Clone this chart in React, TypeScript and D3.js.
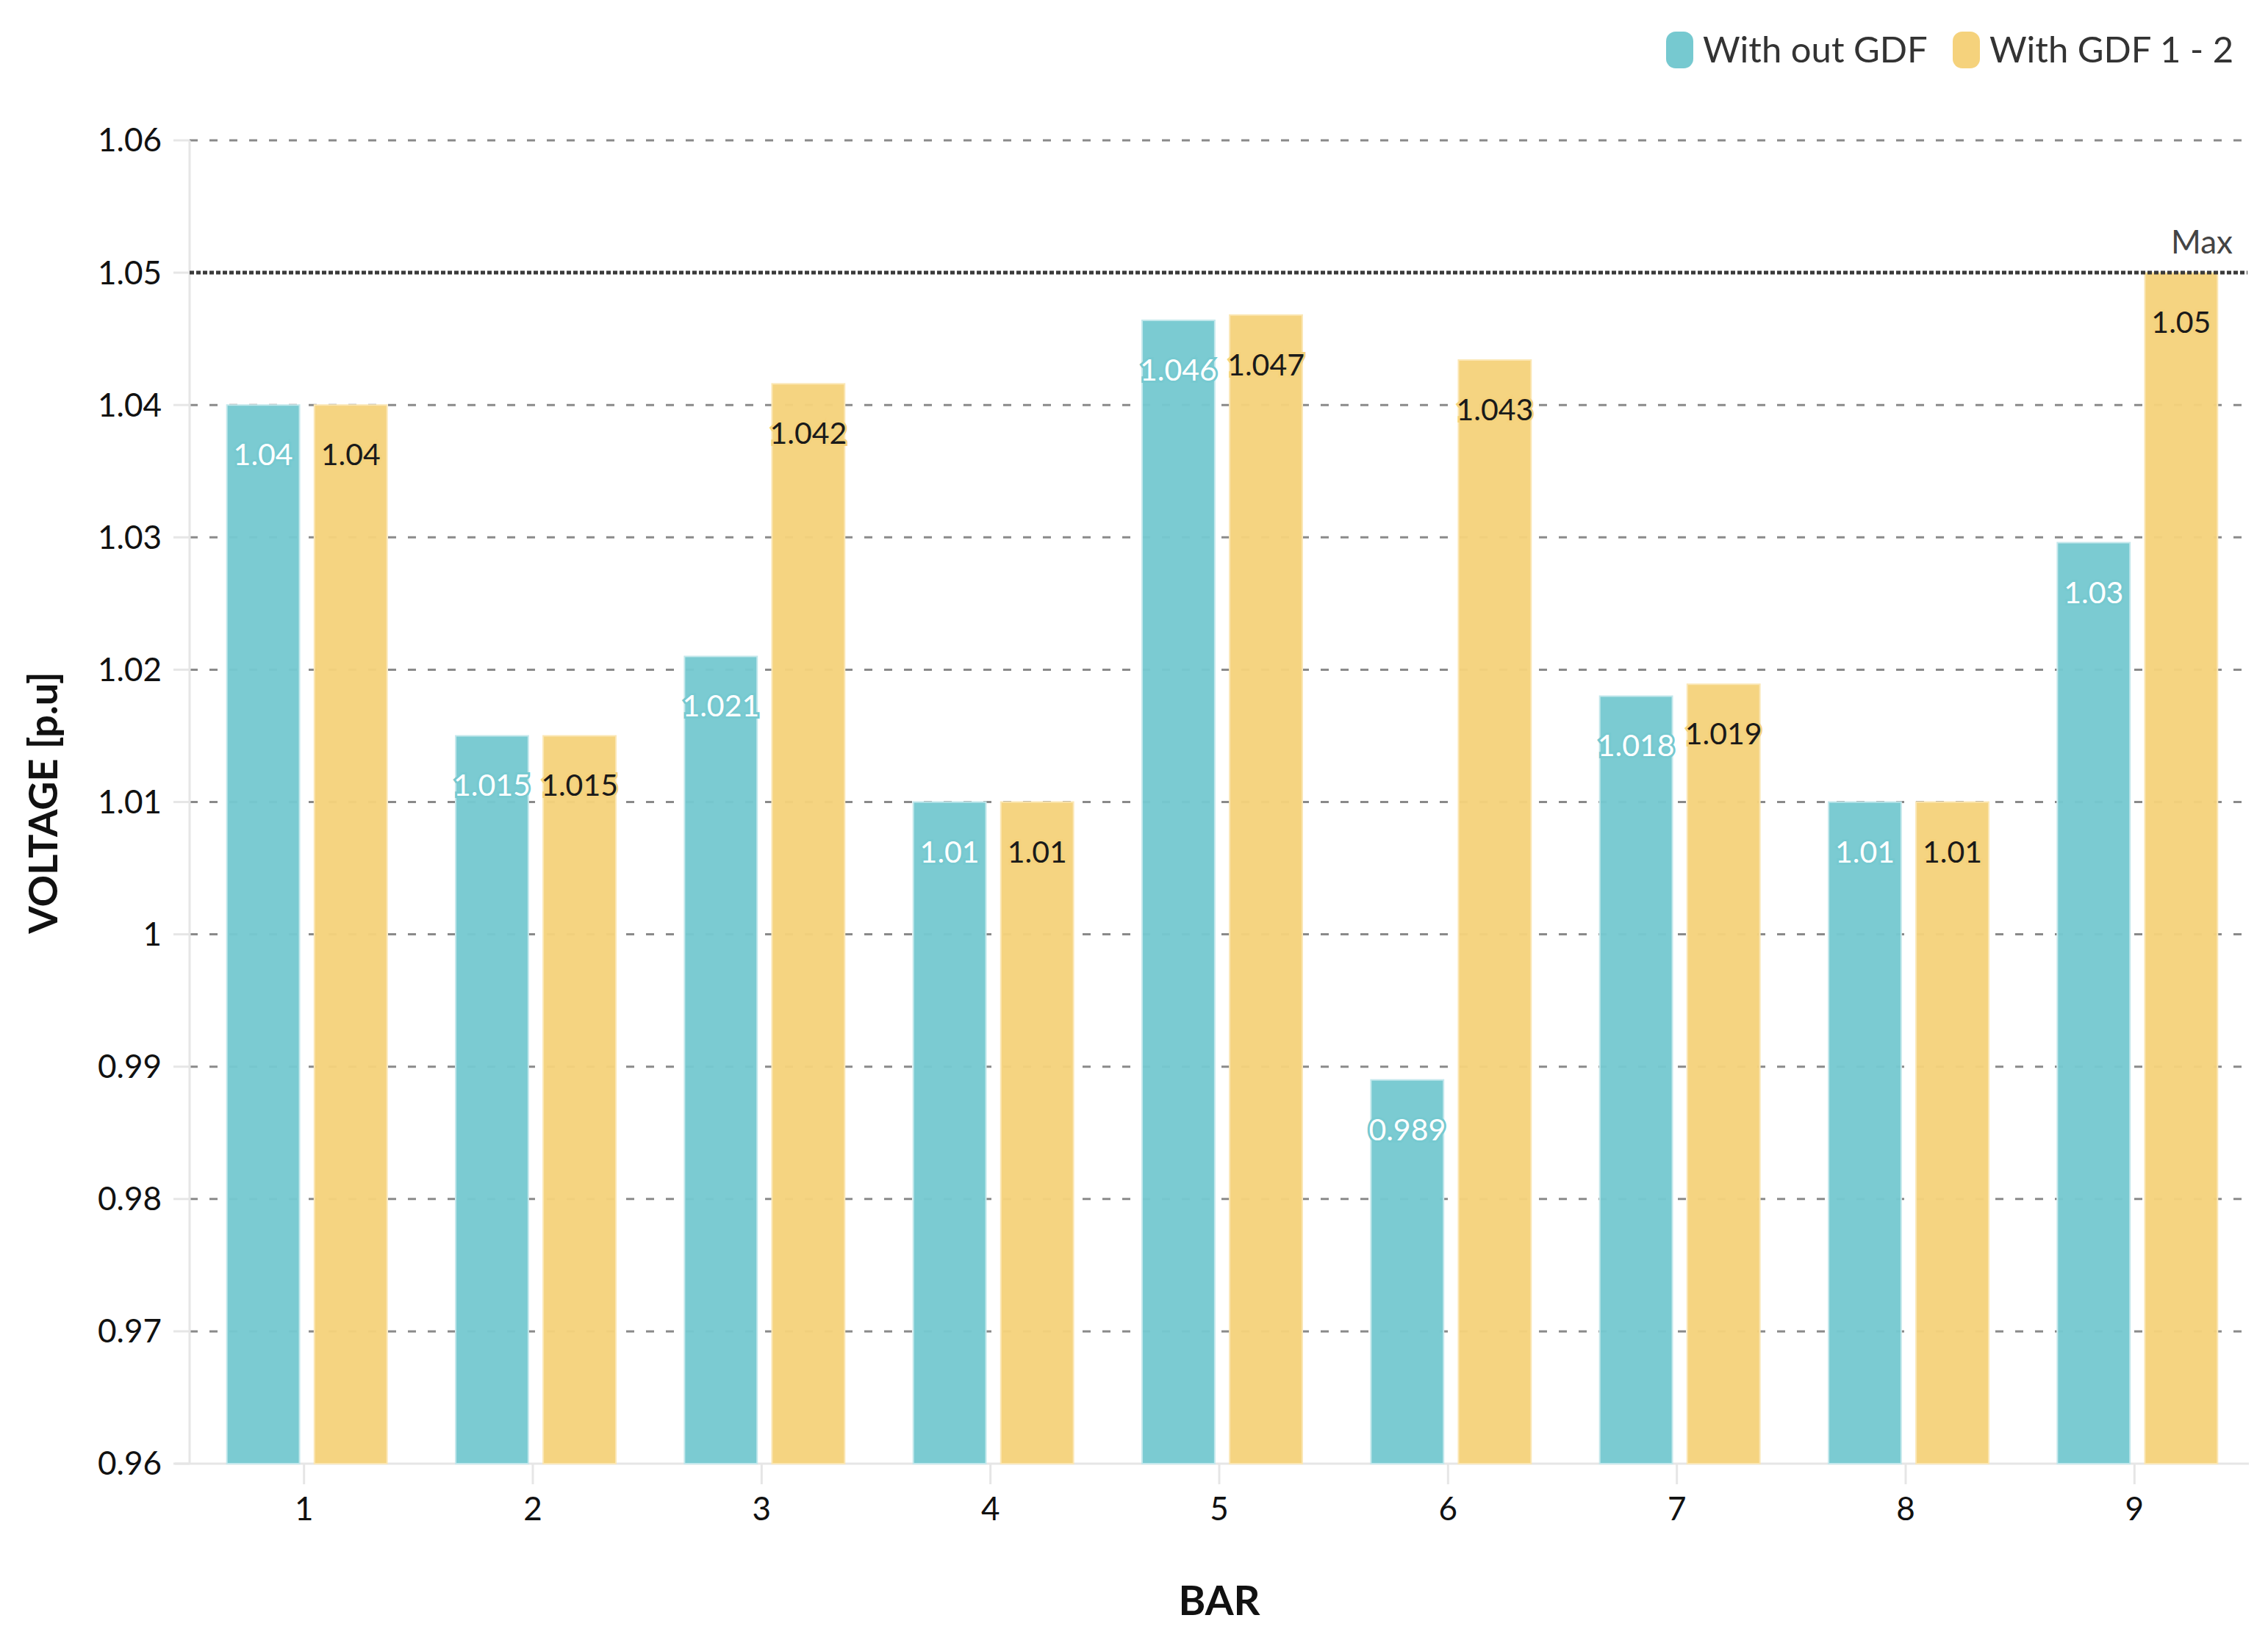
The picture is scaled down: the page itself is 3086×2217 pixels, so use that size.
import { useEffect, useRef } from 'react';
import * as d3 from 'd3';

const BARS = ['1', '2', '3', '4', '5', '6', '7', '8', '9'];
const WITHOUT_GDF = [1.04, 1.015, 1.021, 1.01, 1.0464, 0.989, 1.018, 1.01, 1.0296];
const WITH_GDF = [1.04, 1.015, 1.0416, 1.01, 1.0468, 1.0434, 1.0189, 1.01, 1.05];
const SERIES_NAMES = ['With out GDF', 'With GDF 1 - 2'];
const Y_TICKS = [0.96, 0.97, 0.98, 0.99, 1, 1.01, 1.02, 1.03, 1.04, 1.05, 1.06];
const MAX_LIMIT = 1.05;

const COLORS = ['#76c9d0', '#f5d27c'];
const EDGES = ['#c4e8ec', '#fbe7b5'];
const LABEL_FILL = ['#ffffff', '#1a1a1a'];

const W = 3086;
const H = 2217;
const FONT = 'Lato, "Noto Sans", sans-serif';

export default function App() {
  const ref = useRef<SVGSVGElement>(null);

  useEffect(() => {
    document.body.style.margin = '0';
    if (!ref.current) return;
    const svg = d3.select(ref.current);
    svg.selectAll('*').remove();

    const margin = { top: 191, right: 26, bottom: 225, left: 258 };
    const x0 = margin.left;
    const x1 = W - margin.right;
    const yTop = margin.top;
    const yBot = H - margin.bottom;

    const x = d3.scaleBand<string>().domain(BARS).range([x0, x1]).paddingInner(0).paddingOuter(0);
    const groupW = x.bandwidth() * 0.7;
    const xs = d3.scaleBand<number>().domain([0, 1]).range([0, groupW]).paddingInner(0.17);
    const y = d3.scaleLinear().domain([0.96, 1.06]).range([yBot, yTop]);

    const rows = BARS.map((b, i) => ({ bar: b, values: [WITHOUT_GDF[i], WITH_GDF[i]] }));

    svg.append('rect').attr('width', W).attr('height', H).attr('fill', '#ffffff');

    // gridlines
    svg.append('g')
      .selectAll('line')
      .data(Y_TICKS.filter(t => t !== 0.96 && t !== MAX_LIMIT))
      .join('line')
      .attr('x1', x0)
      .attr('x2', x1)
      .attr('y1', d => y(d))
      .attr('y2', d => y(d))
      .attr('stroke', '#8a8a8a')
      .attr('stroke-width', 3)
      .attr('stroke-dasharray', '11 16');

    // axis lines + ticks
    svg.append('line')
      .attr('x1', x0).attr('x2', x0).attr('y1', yTop).attr('y2', yBot)
      .attr('stroke', '#e6e6e6').attr('stroke-width', 3);
    svg.append('line')
      .attr('x1', x0 - 20).attr('x2', x1).attr('y1', yBot).attr('y2', yBot)
      .attr('stroke', '#e6e6e6').attr('stroke-width', 3);

    svg.append('g')
      .selectAll('line')
      .data(Y_TICKS)
      .join('line')
      .attr('x1', x0 - 22).attr('x2', x0)
      .attr('y1', d => y(d)).attr('y2', d => y(d))
      .attr('stroke', '#e6e6e6').attr('stroke-width', 3);

    svg.append('g')
      .selectAll('line')
      .data(BARS)
      .join('line')
      .attr('x1', d => x(d)! + x.bandwidth() / 2)
      .attr('x2', d => x(d)! + x.bandwidth() / 2)
      .attr('y1', yBot).attr('y2', yBot + 28)
      .attr('stroke', '#e6e6e6').attr('stroke-width', 3);

    // tick labels
    const fmtTick = d3.format('.2~f');
    svg.append('g')
      .selectAll('text')
      .data(Y_TICKS)
      .join('text')
      .attr('x', x0 - 38)
      .attr('y', d => y(d))
      .attr('dy', '0.35em')
      .attr('text-anchor', 'end')
      .attr('font-family', FONT)
      .attr('font-size', 44)
      .attr('fill', '#111')
      .text(d => fmtTick(d));

    svg.append('g')
      .selectAll('text')
      .data(BARS)
      .join('text')
      .attr('x', d => x(d)! + x.bandwidth() / 2)
      .attr('y', yBot + 77)
      .attr('text-anchor', 'middle')
      .attr('font-family', FONT)
      .attr('font-size', 44)
      .attr('fill', '#111')
      .text(d => d);

    // bars
    const groups = svg.append('g')
      .selectAll('g')
      .data(rows)
      .join('g')
      .attr('transform', d => `translate(${x(d.bar)! + (x.bandwidth() - groupW) / 2 + 4},0)`);

    groups.selectAll('rect')
      .data(d => d.values.map((v, s) => ({ v, s })))
      .join('rect')
      .attr('x', d => xs(d.s)!)
      .attr('y', d => y(d.v))
      .attr('width', xs.bandwidth())
      .attr('height', d => yBot - y(d.v))
      .attr('fill', d => COLORS[d.s])
      .attr('fill-opacity', 0.96)
      .attr('stroke', d => EDGES[d.s])
      .attr('stroke-width', 2);

    const fmtVal = d3.format('.3~f');
    groups.selectAll('text')
      .data(d => d.values.map((v, s) => ({ v, s })))
      .join('text')
      .attr('x', d => xs(d.s)! + xs.bandwidth() / 2)
      .attr('y', d => y(d.v) + 82)
      .attr('text-anchor', 'middle')
      .attr('font-family', FONT)
      .attr('font-size', 41)
      .attr('fill', d => LABEL_FILL[d.s])
      .attr('stroke', d => COLORS[d.s])
      .attr('stroke-width', 6)
      .attr('paint-order', 'stroke')
      .text(d => fmtVal(d.v));

    // max limit
    svg.append('line')
      .attr('x1', x0).attr('x2', x1 - 2)
      .attr('y1', y(MAX_LIMIT)).attr('y2', y(MAX_LIMIT))
      .attr('stroke', '#3a3a3a')
      .attr('stroke-width', 5)
      .attr('stroke-dasharray', '6 3');
    svg.append('text')
      .attr('x', x1 - 22)
      .attr('y', y(MAX_LIMIT) - 26)
      .attr('text-anchor', 'end')
      .attr('font-family', FONT)
      .attr('font-size', 44)
      .attr('fill', '#444')
      .text('Max');

    // axis titles
    svg.append('text')
      .attr('transform', `translate(78,${(yTop + yBot) / 2 + 1}) rotate(-90)`)
      .attr('text-anchor', 'middle')
      .attr('font-family', FONT)
      .attr('font-weight', 'bold')
      .attr('font-size', 54)
      .attr('fill', '#111')
      .text('VOLTAGE [p.u]');

    svg.append('text')
      .attr('x', (x0 + x1) / 2)
      .attr('y', 2198)
      .attr('text-anchor', 'middle')
      .attr('font-family', FONT)
      .attr('font-weight', 'bold')
      .attr('font-size', 56)
      .attr('fill', '#111')
      .text('BAR');

    // legend
    const legendX = [2267, 2657];
    const legend = svg.append('g')
      .selectAll('g')
      .data(SERIES_NAMES)
      .join('g')
      .attr('transform', (_, i) => `translate(${legendX[i]},43)`);
    legend.append('rect')
      .attr('width', 37).attr('height', 50).attr('rx', 13)
      .attr('fill', (_, i) => COLORS[i]);
    legend.append('text')
      .attr('x', 50).attr('y', 42)
      .attr('font-family', FONT)
      .attr('font-size', 49)
      .attr('fill', '#333')
      .text(d => d);
  }, []);

  return (
    <svg ref={ref} width={W} height={H} style={{ display: 'block' }} />
  );
}
